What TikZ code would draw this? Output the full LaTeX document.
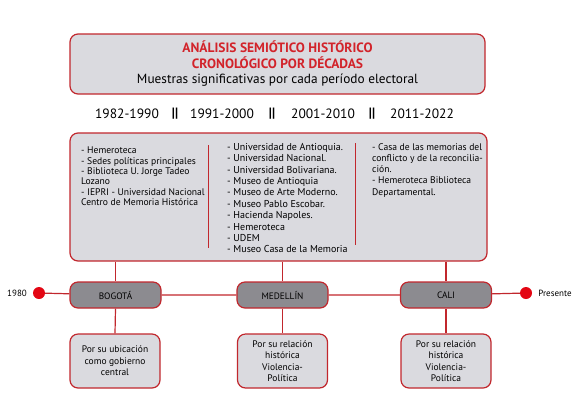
\documentclass[tikz,border=0pt]{standalone}
\usepackage{fontspec}
\setmainfont{PT Sans}
\usepackage{xcolor}

\definecolor{rojoborde}{HTML}{C1272D}
\definecolor{rojotitulo}{HTML}{D2232A}
\definecolor{rojopunto}{HTML}{E30613}
\definecolor{grisclaro}{HTML}{DADADF}
\definecolor{grisoscuro}{HTML}{8C8B90}

\tikzset{
  caja/.style={draw=rojoborde, line width=1.2pt, fill=grisclaro, rounded corners=8pt},
  ciudad/.style={caja, fill=grisoscuro, minimum width=91pt, minimum height=26pt,
    font=\fontsize{9.3}{10}\selectfont},
  razon/.style={caja, minimum width=90pt, minimum height=54pt, align=center,
    font=\fontsize{9.5}{11.5}\selectfont},
  lista/.style={anchor=north west, inner sep=0pt, align=left},
  linea/.style={draw=rojoborde, line width=1.2pt},
  punto/.style={circle, fill=rojopunto, inner sep=0pt, minimum size=12pt},
  anio/.style={font=\fontsize{13.5}{16}\selectfont},
  barras/.style={font=\fontsize{13.5}{16}\selectfont\bfseries}
}

\begin{document}
\begin{tikzpicture}[x=1pt, y=-1pt]
  \useasboundingbox (0,0) rectangle (585,408);

  % Title box
  \node[caja, minimum width=415pt, minimum height=60pt, align=center,
    font=\fontsize{13.5}{15.5}\selectfont] (titulo) at (277.5,64)
    {\textcolor{rojotitulo}{\bfseries AN\'ALISIS SEMI\'OTICO HIST\'ORICO}\\
     \textcolor{rojotitulo}{\bfseries CRONOL\'OGICO POR D\'ECADAS}\\
     \fontsize{13.3}{15.5}\selectfont Muestras significativas por cada per\'iodo electoral};

  % Decades
  \node[anio] (d1) at (127,114) {1982-1990};
  \node[barras] (s1) at (175,114) {||};
  \node[anio] (d2) at (222,114) {1991-2000};
  \node[barras] (s2) at (272,114) {||};
  \node[anio] (d3) at (323,114) {2001-2010};
  \node[barras] (s3) at (372,114) {||};
  \node[anio] (d4) at (422,114) {2011-2022};

  % Main panel
  \node[caja, minimum width=417pt, minimum height=128pt] (panel) at (278.5,197) {};
  \draw[draw=rojoborde, line width=1pt] (208,145) -- (208,248);
  \draw[draw=rojoborde, line width=1pt] (355,143) -- (355,245);

  % Lists
  \node[lista, font=\fontsize{9.6}{10.3}\selectfont] (lista1) at (81,147) {- Hemeroteca\\
    - Sedes pol\'iticas principales\\
    - Biblioteca U. Jorge Tadeo\\
    Lozano\\
    - IEPRI - Universidad Nacional\\
    Centro de Memoria Hist\'orica};
  \node[lista, font=\fontsize{10}{11.4}\selectfont] (lista2) at (227,143) {- Universidad de Antioquia.\\
    - Universidad Nacional.\\
    - Universidad Bolivariana.\\
    - Museo de Antioquia\\
    - Museo de Arte Moderno.\\
    - Museo Pablo Escobar.\\
    - Hacienda Napoles.\\
    - Hemeroteca\\
    - UDEM\\
    - Museo Casa de la Memoria};
  \node[lista, font=\fontsize{9.6}{11.3}\selectfont] (lista3) at (372,143) {- Casa de las memorias del\\
    conflicto y de la reconcilia-\\
    ci\'on.\\
    - Hemeroteca Biblioteca\\
    Departamental.};

  % Timeline
  \node[punto] (inicio) at (39,293) {};
  \node[punto] (fin) at (526,293) {};
  \node[font=\fontsize{9}{10}\selectfont] (t1980) at (17,293) {1980};
  \node[font=\fontsize{9}{10}\selectfont] (tpresente) at (555,293) {Presente};

  \node[ciudad] (bogota) at (115.5,295) {BOGOT\'A};
  \node[ciudad] (medellin) at (282.5,295) {MEDELL\'IN};
  \node[ciudad] (cali) at (446,295) {CALI};

  \draw[linea] (inicio) -- (bogota) -- (medellin) -- (cali) -- (fin);

  % Reasons
  \node[razon] (razon1) at (115,361) {Por su ubicaci\'on\\como gobierno\\central};
  \node[razon] (razon2) at (282.5,361) {Por su relaci\'on\\hist\'orica\\Violencia-\\Pol\'itica};
  \node[razon] (razon3) at (446,361) {Por su relaci\'on\\hist\'orica\\Violencia-\\Pol\'itica};

  % Connectors
  \foreach \c/\r in {bogota/razon1, medellin/razon2, cali/razon3} {
    \draw[linea] (\c.north |- panel.south) -- (\c.north);
    \draw[linea] (\c.south) -- (\r.north);
  }
\end{tikzpicture}
\end{document}
